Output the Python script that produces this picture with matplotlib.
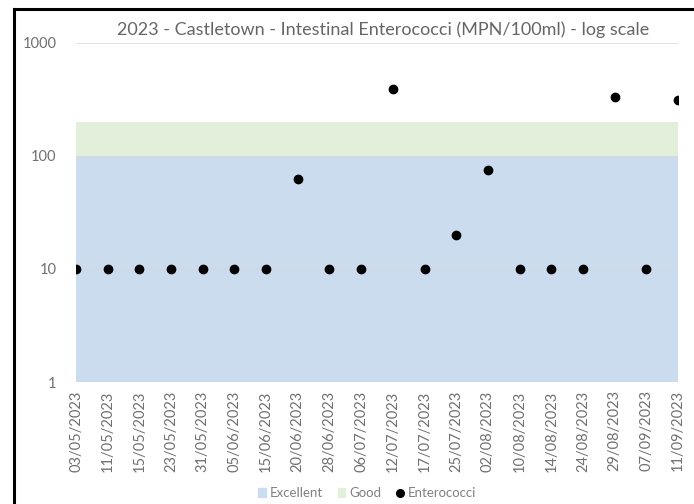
import numpy as np
import matplotlib
matplotlib.use('Agg')
import matplotlib.pyplot as plt
from matplotlib.lines import Line2D
from matplotlib.patches import Patch

plt.rcParams['font.family'] = ['Lato', 'DejaVu Sans']

dates = ['03/05/2023', '11/05/2023', '15/05/2023', '23/05/2023', '31/05/2023',
         '05/06/2023', '15/06/2023', '20/06/2023', '28/06/2023', '06/07/2023',
         '12/07/2023', '17/07/2023', '25/07/2023', '02/08/2023', '10/08/2023',
         '14/08/2023', '24/08/2023', '29/08/2023', '07/09/2023', '11/09/2023']
enterococci = [10, 10, 10, 10, 10, 10, 10, 63, 10, 10,
               390, 10, 20, 75, 10, 10, 10, 330, 10, 310]
excellent = [100] * len(dates)   # upper limit of the Excellent band
good = [200] * len(dates)        # upper limit of the Good band
y_ticks = [1, 10, 100, 1000]

W, H = 694, 504
fig = plt.figure(figsize=(W / 100, H / 100), dpi=100)
ax = fig.add_axes([76 / W, 1 - 382 / H, (678 - 76) / W, (382 - 43) / H])

x = np.arange(len(dates))
ax.fill_between(x, 1, excellent, color='#cbdcee', lw=0, zorder=1)
ax.fill_between(x, excellent, good, color='#e2efda', lw=0, zorder=1)
for t in y_ticks:
    ax.axhline(t, color='#d9d9d9', lw=0.8, alpha=0.7, zorder=2)
ax.scatter(x, enterococci, s=36, color='black', zorder=3)

ax.set_yscale('log')
ax.set_ylim(1, 1000)
ax.set_xlim(0, len(dates) - 1)
ax.set_yticks(y_ticks)
ax.set_yticklabels([str(t) for t in y_ticks])
ax.minorticks_off()
ax.set_xticks(x)
ax.set_xticklabels(dates, rotation=90)
ax.tick_params(axis='both', length=0, labelsize=10.5, labelcolor='#707070')
ax.tick_params(axis='y', pad=14)
ax.tick_params(axis='x', pad=6)
for s in ax.spines.values():
    s.set_visible(False)

fig.text(383 / W, 1 - 30 / H, '2023 - Castletown - Intestinal Enterococci (MPN/100ml) - log scale',
         ha='center', va='center', fontsize=13, color='#666666')

handles = [Patch(color='#cbdcee', label='Excellent'),
           Patch(color='#e2efda', label='Good'),
           Line2D([], [], marker='o', ls='', color='black', markersize=5.5, label='Enterococci')]
fig.legend(handles=handles, loc='center', bbox_to_anchor=(367 / W, 1 - 493 / H), ncol=3,
           frameon=False, fontsize=9.5, labelcolor='#808080', handlelength=0.6,
           handleheight=0.6, handletextpad=0.3, columnspacing=1.1)

# screenshot frame on left and top
fig.add_artist(Line2D([14 / W, 14 / W], [0, 1 - 9 / H], color='black', lw=2.2))
fig.add_artist(Line2D([14 / W, 1], [1 - 9 / H, 1 - 9 / H], color='black', lw=2.2))

fig.savefig('out.png', dpi=100)
